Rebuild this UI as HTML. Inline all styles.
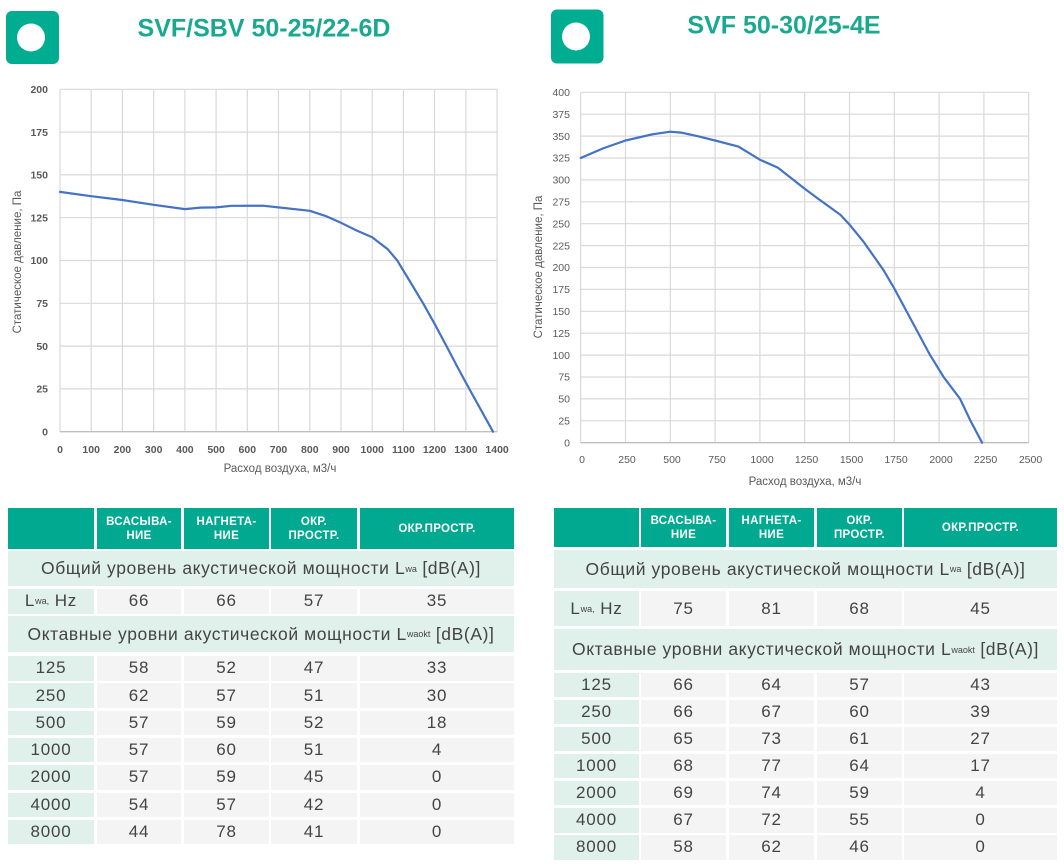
<!DOCTYPE html>
<html><head><meta charset="utf-8">
<style>
html,body{margin:0;padding:0;background:#fff;}
body{width:1064px;height:867px;position:relative;overflow:hidden;font-family:"Liberation Sans",sans-serif;}
.c{position:absolute;display:flex;align-items:center;justify-content:center;box-sizing:border-box;color:#444;white-space:nowrap;}
.h{background:#00a98f;color:#fff;font-weight:bold;font-size:11.5px;line-height:14px;text-align:center;letter-spacing:0.3px;}
.g{background:#e0f0eb;font-size:17.5px;letter-spacing:0.6px;}
.d{background:#f4f4f4;font-size:17px;letter-spacing:0.8px;}
.k{background:#e0f0eb;font-size:17px;letter-spacing:0.8px;}
sub{font-size:9px;vertical-align:-4px;line-height:0;letter-spacing:0;}
</style></head><body>
<svg width="1064" height="867" style="position:absolute;left:0;top:0" xmlns="http://www.w3.org/2000/svg">
<rect x="6" y="11" width="53" height="53" rx="6" fill="#00ad91"/>
<circle cx="31" cy="37.5" r="14" fill="#fff"/>
<rect x="551" y="9.5" width="52.5" height="54" rx="6" fill="#00ad91"/>
<circle cx="576" cy="36.5" r="14" fill="#fff"/>
<text x="264" y="36.5" text-anchor="middle" font-family="Liberation Sans, sans-serif" font-weight="bold" font-size="25" fill="#1aa98f">SVF/SBV 50-25/22-6D</text>
<text x="784" y="33.5" text-anchor="middle" font-family="Liberation Sans, sans-serif" font-weight="bold" font-size="25" fill="#1aa98f">SVF 50-30/25-4E</text>

<g stroke="#d9d9d9" stroke-width="1.2" fill="none">
<line x1="60" y1="89.3" x2="60" y2="431.7"/><line x1="91.2" y1="89.3" x2="91.2" y2="431.7"/><line x1="122.4" y1="89.3" x2="122.4" y2="431.7"/><line x1="153.7" y1="89.3" x2="153.7" y2="431.7"/><line x1="184.9" y1="89.3" x2="184.9" y2="431.7"/><line x1="216.1" y1="89.3" x2="216.1" y2="431.7"/><line x1="247.3" y1="89.3" x2="247.3" y2="431.7"/><line x1="278.5" y1="89.3" x2="278.5" y2="431.7"/><line x1="309.8" y1="89.3" x2="309.8" y2="431.7"/><line x1="341" y1="89.3" x2="341" y2="431.7"/><line x1="372.2" y1="89.3" x2="372.2" y2="431.7"/><line x1="403.4" y1="89.3" x2="403.4" y2="431.7"/><line x1="434.6" y1="89.3" x2="434.6" y2="431.7"/><line x1="465.9" y1="89.3" x2="465.9" y2="431.7"/><line x1="497.1" y1="89.3" x2="497.1" y2="431.7"/>
<line x1="60" y1="89.3" x2="497.1" y2="89.3"/><line x1="60" y1="132.1" x2="497.1" y2="132.1"/><line x1="60" y1="174.9" x2="497.1" y2="174.9"/><line x1="60" y1="217.7" x2="497.1" y2="217.7"/><line x1="60" y1="260.5" x2="497.1" y2="260.5"/><line x1="60" y1="303.3" x2="497.1" y2="303.3"/><line x1="60" y1="346.1" x2="497.1" y2="346.1"/><line x1="60" y1="388.9" x2="497.1" y2="388.9"/>
</g>
<line x1="60" y1="431.7" x2="497.1" y2="431.7" stroke="#bfbfbf" stroke-width="1.3"/>
<g font-family="Liberation Sans, sans-serif" font-size="10.5" font-weight="bold" fill="#595959" text-anchor="end">
<text x="48" y="93">200</text><text x="48" y="135.8">175</text><text x="48" y="178.6">150</text><text x="48" y="221.4">125</text><text x="48" y="264.2">100</text><text x="48" y="307">75</text><text x="48" y="349.8">50</text><text x="48" y="392.6">25</text><text x="48" y="435.4">0</text>
</g>
<g font-family="Liberation Sans, sans-serif" font-size="10.5" font-weight="bold" fill="#595959" text-anchor="middle">
<text x="60" y="453">0</text><text x="91.2" y="453">100</text><text x="122.4" y="453">200</text><text x="153.7" y="453">300</text><text x="184.9" y="453">400</text><text x="216.1" y="453">500</text><text x="247.3" y="453">600</text><text x="278.5" y="453">700</text><text x="309.8" y="453">800</text><text x="341" y="453">900</text><text x="372.2" y="453">1000</text><text x="403.4" y="453">1100</text><text x="434.6" y="453">1200</text><text x="465.9" y="453">1300</text><text x="497.1" y="453">1400</text>
</g>
<text x="280" y="472" text-anchor="middle" font-family="Liberation Sans, sans-serif" font-size="11.5" fill="#595959">Расход воздуха, м3/ч</text>
<text transform="translate(21,262) rotate(-90)" text-anchor="middle" font-family="Liberation Sans, sans-serif" font-size="11.5" fill="#595959">Статическое давление, Па</text>
<polyline fill="none" stroke="#4472c4" stroke-width="2.2" stroke-linejoin="round" stroke-linecap="round" points="60,191.9 91.2,196.2 122.4,200 153.7,204.8 184.9,209.1 200.5,207.6 216.1,207.4 231.7,205.8 262.9,205.7 278.5,207.4 309.8,210.8 325.4,215.9 341,222.8 356.6,230.5 372.2,237.3 387.8,249.3 397.2,260.4 409.7,281 423.1,303.3 434.6,323.8 446.5,346.1 458.1,368.3 469.3,388.9 493,431.7"/>

<g stroke="#d9d9d9" stroke-width="1.2" fill="none">
<line x1="580.7" y1="92.3" x2="580.7" y2="442.7"/><line x1="625.5" y1="92.3" x2="625.5" y2="442.7"/><line x1="670.3" y1="92.3" x2="670.3" y2="442.7"/><line x1="715.1" y1="92.3" x2="715.1" y2="442.7"/><line x1="759.9" y1="92.3" x2="759.9" y2="442.7"/><line x1="804.7" y1="92.3" x2="804.7" y2="442.7"/><line x1="849.5" y1="92.3" x2="849.5" y2="442.7"/><line x1="894.3" y1="92.3" x2="894.3" y2="442.7"/><line x1="939.1" y1="92.3" x2="939.1" y2="442.7"/><line x1="983.9" y1="92.3" x2="983.9" y2="442.7"/><line x1="1028.7" y1="92.3" x2="1028.7" y2="442.7"/>
<line x1="580.7" y1="92.3" x2="1028.7" y2="92.3"/><line x1="580.7" y1="114.2" x2="1028.7" y2="114.2"/><line x1="580.7" y1="136.1" x2="1028.7" y2="136.1"/><line x1="580.7" y1="158" x2="1028.7" y2="158"/><line x1="580.7" y1="179.9" x2="1028.7" y2="179.9"/><line x1="580.7" y1="201.8" x2="1028.7" y2="201.8"/><line x1="580.7" y1="223.7" x2="1028.7" y2="223.7"/><line x1="580.7" y1="245.6" x2="1028.7" y2="245.6"/><line x1="580.7" y1="267.5" x2="1028.7" y2="267.5"/><line x1="580.7" y1="289.4" x2="1028.7" y2="289.4"/><line x1="580.7" y1="311.3" x2="1028.7" y2="311.3"/><line x1="580.7" y1="333.2" x2="1028.7" y2="333.2"/><line x1="580.7" y1="355.1" x2="1028.7" y2="355.1"/><line x1="580.7" y1="377" x2="1028.7" y2="377"/><line x1="580.7" y1="398.9" x2="1028.7" y2="398.9"/><line x1="580.7" y1="420.8" x2="1028.7" y2="420.8"/>
</g>
<line x1="580.7" y1="442.7" x2="1028.7" y2="442.7" stroke="#bfbfbf" stroke-width="1.3"/>
<g font-family="Liberation Sans, sans-serif" font-size="10.5" fill="#595959" text-anchor="end">
<text x="570" y="96">400</text><text x="570" y="117.9">375</text><text x="570" y="139.8">350</text><text x="570" y="161.7">325</text><text x="570" y="183.6">300</text><text x="570" y="205.5">275</text><text x="570" y="227.4">250</text><text x="570" y="249.3">225</text><text x="570" y="271.2">200</text><text x="570" y="293.1">175</text><text x="570" y="315">150</text><text x="570" y="336.9">125</text><text x="570" y="358.8">100</text><text x="570" y="380.7">75</text><text x="570" y="402.6">50</text><text x="570" y="424.5">25</text><text x="570" y="446.4">0</text>
</g>
<g font-family="Liberation Sans, sans-serif" font-size="10.5" fill="#595959" text-anchor="middle">
<text x="582" y="463">0</text><text x="627" y="463">250</text><text x="672" y="463">500</text><text x="717" y="463">750</text><text x="762" y="463">1000</text><text x="806.5" y="463">1250</text><text x="851.5" y="463">1500</text><text x="896" y="463">1750</text><text x="941" y="463">2000</text><text x="985.5" y="463">2250</text><text x="1030.5" y="463">2500</text>
</g>
<text x="805" y="485" text-anchor="middle" font-family="Liberation Sans, sans-serif" font-size="11.5" fill="#595959">Расход воздуха, м3/ч</text>
<text transform="translate(542,267) rotate(-90)" text-anchor="middle" font-family="Liberation Sans, sans-serif" font-size="11.5" fill="#595959">Статическое давление, Па</text>
<polyline fill="none" stroke="#4472c4" stroke-width="2.2" stroke-linejoin="round" stroke-linecap="round" points="580.7,158 603.1,148.4 625.5,140.5 652.4,134.3 670.3,131.7 681.1,132.6 697.2,136.1 715.1,140.5 738.4,146.6 759.9,159.7 777.8,167.6 804.7,188.7 819.9,200 840.5,214.9 849.5,224.6 863.8,242.1 883.5,270.1 894.3,288.5 911.3,320.1 930.1,355.1 943.6,377 960.1,398.9 970.5,420.8 982.1,442.7"/>
</svg>

<div class="c h" style="left:8px;top:508px;width:86px;height:41px"></div>
<div class="c h" style="left:97px;top:508px;width:84px;height:41px">ВСАСЫВА-<br>НИЕ</div>
<div class="c h" style="left:184px;top:508px;width:85px;height:41px">НАГНЕТА-<br>НИЕ</div>
<div class="c h" style="left:271px;top:508px;width:86px;height:41px">ОКР.<br>ПРОСТР.</div>
<div class="c h" style="left:360px;top:508px;width:154px;height:41px">ОКР.ПРОСТР.</div>
<div class="c g" style="left:8px;top:551px;width:506px;height:35px">Общий уровень акустической мощности L<sub>wa</sub>&nbsp;[dB(A)]</div>
<div class="c k" style="left:8px;top:589px;width:86px;height:24.5px">L<sub>wa,</sub>&nbsp;Hz</div>
<div class="c d" style="left:97px;top:589px;width:84px;height:24.5px">66</div>
<div class="c d" style="left:184px;top:589px;width:85px;height:24.5px">66</div>
<div class="c d" style="left:271px;top:589px;width:86px;height:24.5px">57</div>
<div class="c d" style="left:360px;top:589px;width:154px;height:24.5px">35</div>
<div class="c g" style="left:8px;top:616px;width:506px;height:36px">Октавные уровни акустической мощности L<sub>waokt</sub>&nbsp;[dB(A)]</div>

<div class="c k" style="left:8px;top:656px;width:86px;height:24.5px">125</div><div class="c d" style="left:97px;top:656px;width:84px;height:24.5px">58</div><div class="c d" style="left:184px;top:656px;width:85px;height:24.5px">52</div><div class="c d" style="left:271px;top:656px;width:86px;height:24.5px">47</div><div class="c d" style="left:360px;top:656px;width:154px;height:24.5px">33</div>
<div class="c k" style="left:8px;top:683.3px;width:86px;height:24.5px">250</div><div class="c d" style="left:97px;top:683.3px;width:84px;height:24.5px">62</div><div class="c d" style="left:184px;top:683.3px;width:85px;height:24.5px">57</div><div class="c d" style="left:271px;top:683.3px;width:86px;height:24.5px">51</div><div class="c d" style="left:360px;top:683.3px;width:154px;height:24.5px">30</div>
<div class="c k" style="left:8px;top:710.6px;width:86px;height:24.5px">500</div><div class="c d" style="left:97px;top:710.6px;width:84px;height:24.5px">57</div><div class="c d" style="left:184px;top:710.6px;width:85px;height:24.5px">59</div><div class="c d" style="left:271px;top:710.6px;width:86px;height:24.5px">52</div><div class="c d" style="left:360px;top:710.6px;width:154px;height:24.5px">18</div>
<div class="c k" style="left:8px;top:737.9px;width:86px;height:24.5px">1000</div><div class="c d" style="left:97px;top:737.9px;width:84px;height:24.5px">57</div><div class="c d" style="left:184px;top:737.9px;width:85px;height:24.5px">60</div><div class="c d" style="left:271px;top:737.9px;width:86px;height:24.5px">51</div><div class="c d" style="left:360px;top:737.9px;width:154px;height:24.5px">4</div>
<div class="c k" style="left:8px;top:765.2px;width:86px;height:24.5px">2000</div><div class="c d" style="left:97px;top:765.2px;width:84px;height:24.5px">57</div><div class="c d" style="left:184px;top:765.2px;width:85px;height:24.5px">59</div><div class="c d" style="left:271px;top:765.2px;width:86px;height:24.5px">45</div><div class="c d" style="left:360px;top:765.2px;width:154px;height:24.5px">0</div>
<div class="c k" style="left:8px;top:792.5px;width:86px;height:24.5px">4000</div><div class="c d" style="left:97px;top:792.5px;width:84px;height:24.5px">54</div><div class="c d" style="left:184px;top:792.5px;width:85px;height:24.5px">57</div><div class="c d" style="left:271px;top:792.5px;width:86px;height:24.5px">42</div><div class="c d" style="left:360px;top:792.5px;width:154px;height:24.5px">0</div>
<div class="c k" style="left:8px;top:819.8px;width:86px;height:24.5px">8000</div><div class="c d" style="left:97px;top:819.8px;width:84px;height:24.5px">44</div><div class="c d" style="left:184px;top:819.8px;width:85px;height:24.5px">78</div><div class="c d" style="left:271px;top:819.8px;width:86px;height:24.5px">41</div><div class="c d" style="left:360px;top:819.8px;width:154px;height:24.5px">0</div>

<div class="c h" style="left:554px;top:508px;width:85px;height:39px"></div>
<div class="c h" style="left:641px;top:508px;width:85px;height:39px">ВСАСЫВА-<br>НИЕ</div>
<div class="c h" style="left:729px;top:508px;width:85px;height:39px">НАГНЕТА-<br>НИЕ</div>
<div class="c h" style="left:817px;top:508px;width:85px;height:39px">ОКР.<br>ПРОСТР.</div>
<div class="c h" style="left:904px;top:508px;width:153px;height:39px">ОКР.ПРОСТР.</div>
<div class="c g" style="left:554px;top:550px;width:503px;height:38px">Общий уровень акустической мощности L<sub>wa</sub>&nbsp;[dB(A)]</div>
<div class="c k" style="left:554px;top:591px;width:85px;height:35px">L<sub>wa,</sub>&nbsp;Hz</div>
<div class="c d" style="left:641px;top:591px;width:85px;height:35px">75</div>
<div class="c d" style="left:729px;top:591px;width:85px;height:35px">81</div>
<div class="c d" style="left:817px;top:591px;width:85px;height:35px">68</div>
<div class="c d" style="left:904px;top:591px;width:153px;height:35px">45</div>
<div class="c g" style="left:554px;top:629px;width:503px;height:41px">Октавные уровни акустической мощности L<sub>waokt</sub>&nbsp;[dB(A)]</div>

<div class="c k" style="left:554px;top:672.7px;width:85px;height:24.5px">125</div><div class="c d" style="left:641px;top:672.7px;width:85px;height:24.5px">66</div><div class="c d" style="left:729px;top:672.7px;width:85px;height:24.5px">64</div><div class="c d" style="left:817px;top:672.7px;width:85px;height:24.5px">57</div><div class="c d" style="left:904px;top:672.7px;width:153px;height:24.5px">43</div>
<div class="c k" style="left:554px;top:699.8px;width:85px;height:24.5px">250</div><div class="c d" style="left:641px;top:699.8px;width:85px;height:24.5px">66</div><div class="c d" style="left:729px;top:699.8px;width:85px;height:24.5px">67</div><div class="c d" style="left:817px;top:699.8px;width:85px;height:24.5px">60</div><div class="c d" style="left:904px;top:699.8px;width:153px;height:24.5px">39</div>
<div class="c k" style="left:554px;top:726.8px;width:85px;height:24.5px">500</div><div class="c d" style="left:641px;top:726.8px;width:85px;height:24.5px">65</div><div class="c d" style="left:729px;top:726.8px;width:85px;height:24.5px">73</div><div class="c d" style="left:817px;top:726.8px;width:85px;height:24.5px">61</div><div class="c d" style="left:904px;top:726.8px;width:153px;height:24.5px">27</div>
<div class="c k" style="left:554px;top:753.9px;width:85px;height:24.5px">1000</div><div class="c d" style="left:641px;top:753.9px;width:85px;height:24.5px">68</div><div class="c d" style="left:729px;top:753.9px;width:85px;height:24.5px">77</div><div class="c d" style="left:817px;top:753.9px;width:85px;height:24.5px">64</div><div class="c d" style="left:904px;top:753.9px;width:153px;height:24.5px">17</div>
<div class="c k" style="left:554px;top:780.9px;width:85px;height:24.5px">2000</div><div class="c d" style="left:641px;top:780.9px;width:85px;height:24.5px">69</div><div class="c d" style="left:729px;top:780.9px;width:85px;height:24.5px">74</div><div class="c d" style="left:817px;top:780.9px;width:85px;height:24.5px">59</div><div class="c d" style="left:904px;top:780.9px;width:153px;height:24.5px">4</div>
<div class="c k" style="left:554px;top:808px;width:85px;height:24.5px">4000</div><div class="c d" style="left:641px;top:808px;width:85px;height:24.5px">67</div><div class="c d" style="left:729px;top:808px;width:85px;height:24.5px">72</div><div class="c d" style="left:817px;top:808px;width:85px;height:24.5px">55</div><div class="c d" style="left:904px;top:808px;width:153px;height:24.5px">0</div>
<div class="c k" style="left:554px;top:835px;width:85px;height:24.5px">8000</div><div class="c d" style="left:641px;top:835px;width:85px;height:24.5px">58</div><div class="c d" style="left:729px;top:835px;width:85px;height:24.5px">62</div><div class="c d" style="left:817px;top:835px;width:85px;height:24.5px">46</div><div class="c d" style="left:904px;top:835px;width:153px;height:24.5px">0</div>
</body></html>
